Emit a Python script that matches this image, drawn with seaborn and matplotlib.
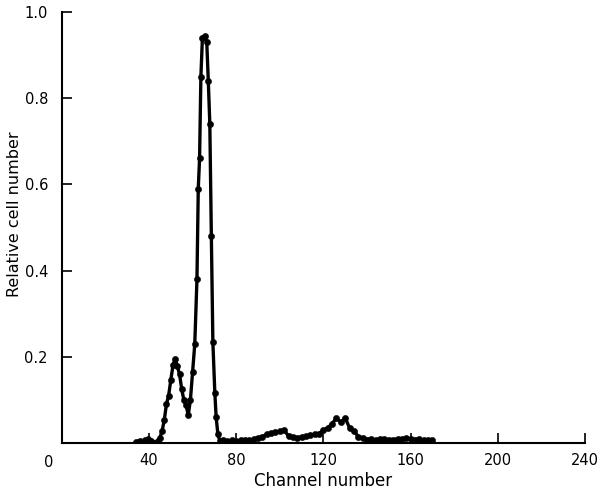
import matplotlib
matplotlib.use("Agg")
import matplotlib.pyplot as plt
import seaborn as sns
import pandas as pd

# Channel numbers and relative cell numbers
channel = [34, 36, 38, 39.5, 41, 42.5, 44, 45, 46, 47, 48, 49, 50, 51, 52, 53, 54, 55,
           56, 57, 58, 59, 60, 61, 62, 62.6, 63.2, 63.8, 64.5, 65.5, 66.5, 67.2, 67.9,
           68.6, 69.3, 70.2, 70.8, 71.6, 72.5, 74, 76, 78, 80, 82, 84, 86, 88, 90, 92,
           94, 96, 98, 100, 102, 104, 106, 108, 110, 112, 114, 116, 118, 120, 122, 124,
           126, 128, 130, 132, 134, 136, 138, 140, 142, 144, 146, 148, 150, 152, 154,
           156, 158, 160, 162, 164, 166, 168, 170]
rel_cells = [0.003, 0.005, 0.006, 0.009, 0.004, 0.0, 0.004, 0.012, 0.028, 0.053, 0.09,
             0.11, 0.146, 0.18, 0.195, 0.178, 0.16, 0.125, 0.10, 0.088, 0.065, 0.10,
             0.165, 0.23, 0.38, 0.59, 0.66, 0.85, 0.94, 0.945, 0.93, 0.84, 0.74, 0.48,
             0.234, 0.116, 0.06, 0.02, 0.005, 0.006, 0.004, 0.007, 0.005, 0.006, 0.008,
             0.006, 0.009, 0.012, 0.015, 0.02, 0.023, 0.025, 0.027, 0.03, 0.016, 0.014,
             0.012, 0.015, 0.016, 0.018, 0.02, 0.022, 0.03, 0.035, 0.045, 0.058, 0.048,
             0.058, 0.035, 0.028, 0.015, 0.012, 0.008, 0.01, 0.007, 0.009, 0.01, 0.008,
             0.007, 0.01, 0.009, 0.012, 0.01, 0.008, 0.009, 0.007, 0.008, 0.006]

x_ticks = [0, 40, 80, 120, 160, 200, 240]
x_tick_labels = ["", "40", "80", "120", "160", "200", "240"]
y_ticks = [0.2, 0.4, 0.6, 0.8, 1.0]
y_tick_labels = ["0.2", "0.4", "0.6", "0.8", "1.0"]

df = pd.DataFrame({"Channel number": channel, "Relative cell number": rel_cells})

sns.set_style("ticks")
plt.rcParams["font.family"] = ["DejaVu Sans"]

fig = plt.figure(figsize=(6.0, 4.95), dpi=100)
ax = fig.add_axes([0.103, 0.105, 0.872, 0.871])

sns.lineplot(data=df, x="Channel number", y="Relative cell number", ax=ax,
             color="black", linewidth=2.4, sort=False)
sns.scatterplot(data=df, x="Channel number", y="Relative cell number", ax=ax,
                color="black", s=20, edgecolor="black", zorder=3)

ax.set_xlim(0, 240)
ax.set_ylim(0, 1.0)
ax.set_xticks(x_ticks)
ax.set_xticklabels(x_tick_labels)
ax.set_yticks(y_ticks)
ax.set_yticklabels(y_tick_labels)
ax.tick_params(axis="both", direction="in", length=7, width=1.2, labelsize=10.5,
               colors="black")
ax.tick_params(axis="x", pad=7)
ax.tick_params(axis="y", pad=10)
for side in ["top", "right"]:
    ax.spines[side].set_visible(False)
for side in ["left", "bottom"]:
    ax.spines[side].set_linewidth(1.5)
    ax.spines[side].set_color("black")

ax.text(-0.025, -0.028, "0", transform=ax.transAxes, ha="center", va="top",
        fontsize=10.5, color="black")
ax.set_xlabel("Channel number", fontsize=12, color="black", labelpad=3)
ax.set_ylabel("Relative cell number", fontsize=11.5, color="black")
ax.yaxis.set_label_coords(-0.076, 0.53)

fig.savefig("out.png", dpi=100)
